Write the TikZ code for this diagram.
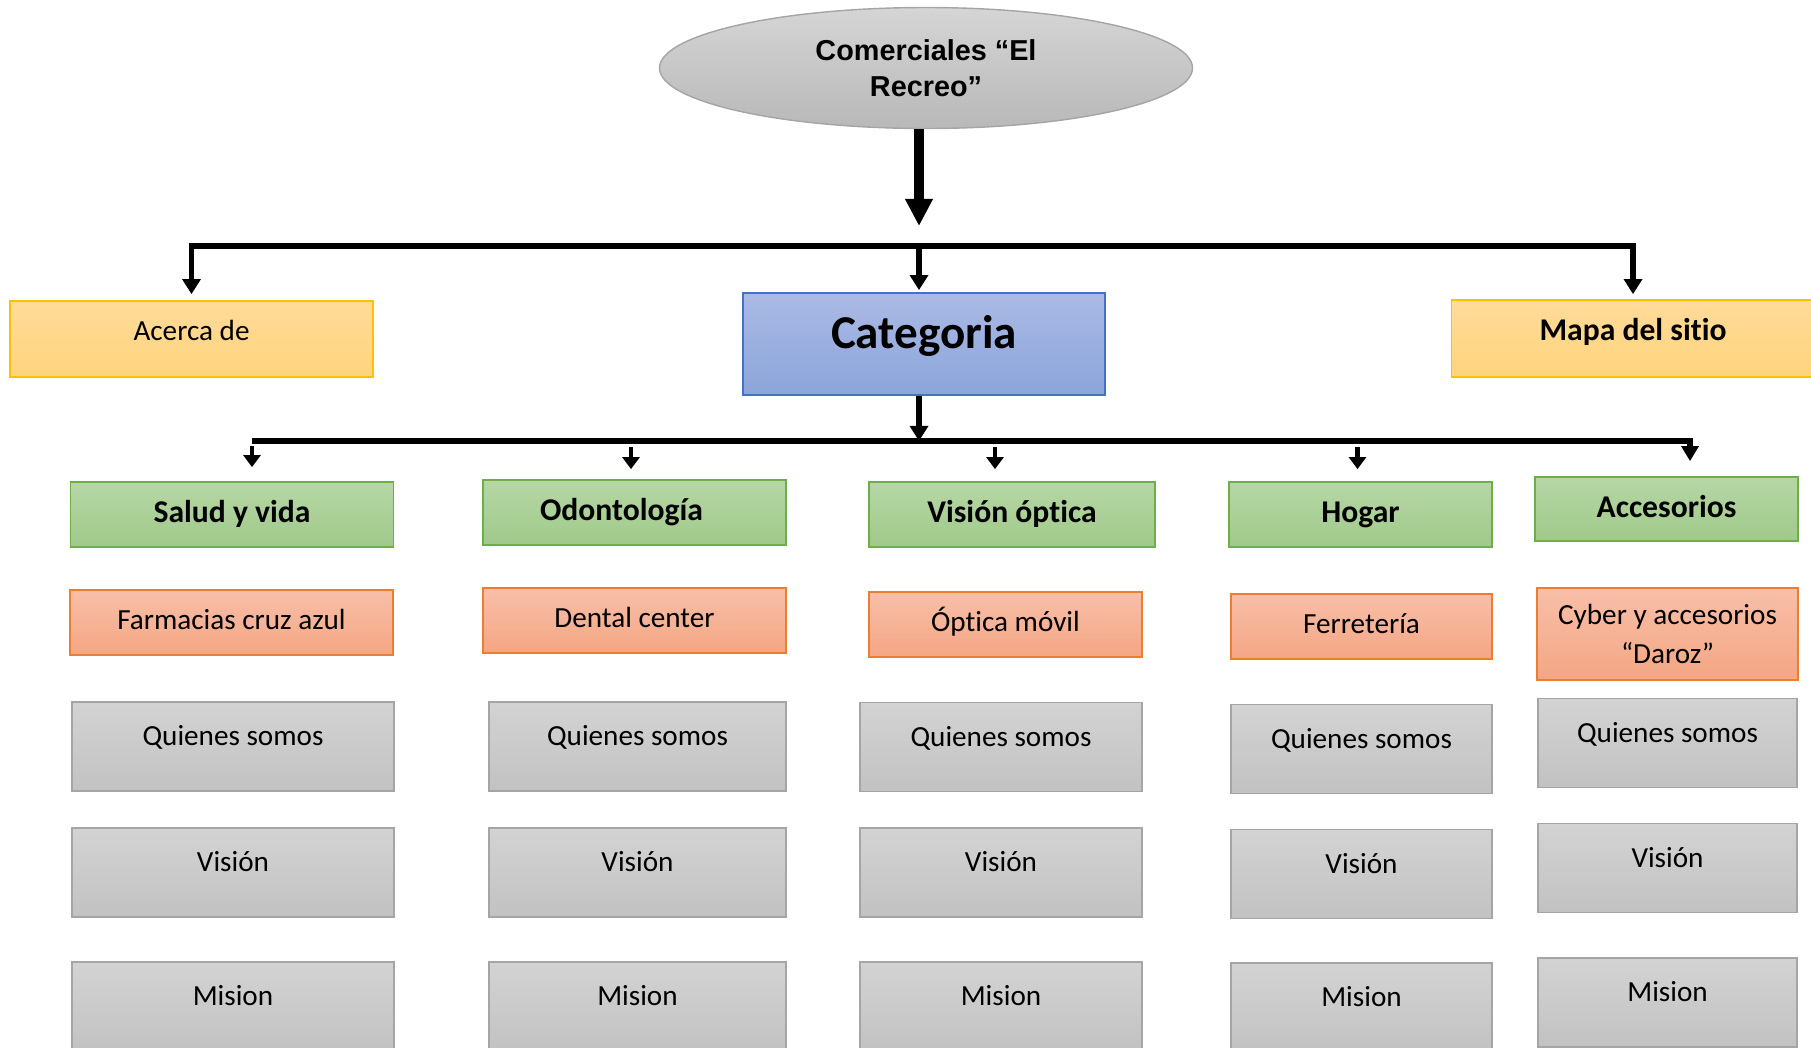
\documentclass[tikz,border=0pt]{standalone}
\usepackage{fontspec}
\setmainfont{Carlito}[Ligatures=NoCommon]
\newfontfamily\arialfont{Liberation Sans}
\usepackage{xcolor}
\usetikzlibrary{arrows.meta,shapes.geometric}

\definecolor{ylwtop}{HTML}{FFDB9A}
\definecolor{ylwbot}{HTML}{FFD47C}
\definecolor{ylwline}{HTML}{FFC000}
\definecolor{blutop}{HTML}{ABBAE5}
\definecolor{blubot}{HTML}{8BA5DA}
\definecolor{bluline}{HTML}{4472C4}
\definecolor{grntop}{HTML}{B6D7A6}
\definecolor{grnbot}{HTML}{A0C98A}
\definecolor{grnline}{HTML}{70AD47}
\definecolor{orgtop}{HTML}{F8BFA9}
\definecolor{orgbot}{HTML}{F4A683}
\definecolor{orgline}{HTML}{ED7D31}
\definecolor{grytop}{HTML}{D3D3D3}
\definecolor{grybot}{HTML}{C2C2C2}
\definecolor{gryline}{HTML}{A5A5A5}

\newcommand\txt{\fontsize{8.3pt}{10pt}\selectfont}
\newcommand\btxt{\fontsize{9pt}{11pt}\selectfont\bfseries}

\begin{document}
\begin{tikzpicture}[
  box/.style={draw,line width=0.5pt,inner sep=0pt,align=center,font=\txt,
              text height=6.2pt,text depth=2.5pt},
  head/.style={ellipse,draw=gryline,line width=0.4pt,top color=grytop!95!white,bottom color=grybot!95!black,
               minimum width=5.33cm,minimum height=1.21cm,inner sep=0pt,align=center,
               font=\arialfont\bfseries\fontsize{8.2pt}{10.2pt}\selectfont},
  yel/.style={box,top color=ylwtop,bottom color=ylwbot,draw=ylwline,text depth=5.6pt},
  catbox/.style={box,top color=blutop,bottom color=blubot,draw=bluline,
                 font=\fontsize{13.4pt}{16pt}\selectfont\bfseries,text height=10pt,text depth=7.4pt},
  grn/.style={box,top color=grntop,bottom color=grnbot,draw=grnline,font=\btxt,
              minimum height=0.65cm,text height=6.7pt,text depth=1.9pt},
  org/.style={box,top color=orgtop,bottom color=orgbot,draw=orgline,minimum height=0.65cm},
  gry/.style={box,top color=grytop,bottom color=grybot,draw=gryline,minimum height=0.89cm,
              text depth=6.6pt},
  big/.style={line width=2.85pt,-{Triangle[width=7.4pt,length=7.7pt]}},
  bus/.style={line width=1.7pt},
  sm/.style={line width=1.3pt,-{Triangle[width=4.8pt,length=3.4pt]}}
]
\useasboundingbox (0,0) rectangle (18.11,-10.47);
% title
\node[head] (top) at (9.26,-0.68) {Comerciales “El\\Recreo”};
% first level
\node[yel,minimum width=3.63cm,minimum height=0.76cm] (acerca) at (1.915,-3.39) {Acerca de};
\node[catbox,minimum width=3.62cm,minimum height=1.02cm] (cat) at (9.24,-3.44) {Categoria};
\node[yel,font=\btxt,text depth=4.8pt,minimum width=3.63cm,minimum height=0.77cm] (mapa) at (16.33,-3.385) {Mapa del sitio};
\coordinate (tip) at (9.19,-2.26);
\coordinate (b1) at (9.19,-2.46);
\draw[big] (top.south -| tip) -- (tip);
\draw[bus,{Triangle[width=5.1pt,length=4.3pt]}-{Triangle[width=5.1pt,length=4.3pt]},
      shorten <=0.6mm,shorten >=0.5mm] (acerca.north) |- (b1) -| (mapa.north);
\draw[bus,-{Triangle[width=5.1pt,length=4.3pt]},shorten >=0.2mm] (b1) -- (b1 |- cat.north);
% categories
\node[grn,minimum width=3.23cm] (salud) at (2.32,-5.145) {Salud y vida};
\node[grn,minimum width=3.03cm] (odonto) at (6.345,-5.125) {Odontología\hspace{2.6mm}};
\node[grn,minimum width=2.86cm] (vision) at (10.12,-5.145) {Visión óptica};
\node[grn,minimum width=2.63cm] (hogar) at (13.605,-5.145) {Hogar};
\node[grn,minimum width=2.63cm,minimum height=0.64cm] (acces) at (16.665,-5.09) {Accesorios};
\coordinate (b2) at (9.19,-4.41);
\coordinate (b2l) at (2.52,-4.41);
\draw[bus,-{Triangle[width=5.1pt,length=4.3pt]}] (cat.south -| b2) -- (b2);
\draw[bus,-{Triangle[width=4.8pt,length=4.3pt]}] (b2l) -| ([xshift=2.35mm,yshift=1.5mm]acces.north);
\draw[sm] ([xshift=2mm]salud.north) ++(0,0.35) -- ++(0,-0.21);
\draw[sm] ([xshift=-0.35mm]odonto.north) ++(0,0.32) -- ++(0,-0.22);
\draw[sm] ([xshift=-1.7mm]vision.north) ++(0,0.34) -- ++(0,-0.22);
\draw[sm] ([xshift=-0.3mm]hogar.north) ++(0,0.34) -- ++(0,-0.22);
% shops
\node[org,minimum width=3.23cm] (farm) at (2.315,-6.225) {Farmacias cruz azul};
\node[org,minimum width=3.03cm] (dental) at (6.345,-6.205) {Dental center};
\node[org,minimum width=2.73cm] (optica) at (10.055,-6.245) {Óptica móvil};
\node[org,minimum width=2.61cm] (ferre) at (13.615,-6.265) {Ferretería};
\node[org,font=\fontsize{8.3pt}{10.9pt}\selectfont,text height={},text depth={},
      minimum width=2.61cm,minimum height=0.92cm] (cyber) at (16.675,-6.34)
  {Cyber y accesorios\\“Daroz”};
% pages of each shop
\node[gry,minimum width=3.22cm] (q1) at (2.33,-7.465) {Quienes somos};
\node[gry,minimum width=3.22cm] (v1) at (2.33,-8.725) {Visión};
\node[gry,minimum width=3.22cm] (m1) at (2.33,-10.065) {Mision};
\node[gry,minimum width=2.97cm] (q2) at (6.375,-7.465) {Quienes somos};
\node[gry,minimum width=2.97cm] (v2) at (6.375,-8.725) {Visión};
\node[gry,minimum width=2.97cm] (m2) at (6.375,-10.065) {Mision};
\node[gry,minimum width=2.82cm] (q3) at (10.01,-7.47) {Quienes somos};
\node[gry,minimum width=2.82cm] (v3) at (10.01,-8.725) {Visión};
\node[gry,minimum width=2.82cm] (m3) at (10.01,-10.065) {Mision};
\node[gry,minimum width=2.61cm] (q4) at (13.615,-7.49) {Quienes somos};
\node[gry,minimum width=2.61cm] (v4) at (13.615,-8.74) {Visión};
\node[gry,minimum width=2.61cm] (m4) at (13.615,-10.075) {Mision};
\node[gry,minimum width=2.59cm] (q5) at (16.675,-7.43) {Quienes somos};
\node[gry,minimum width=2.59cm] (v5) at (16.675,-8.68) {Visión};
\node[gry,minimum width=2.59cm] (m5) at (16.675,-10.025) {Mision};
\end{tikzpicture}
\end{document}
